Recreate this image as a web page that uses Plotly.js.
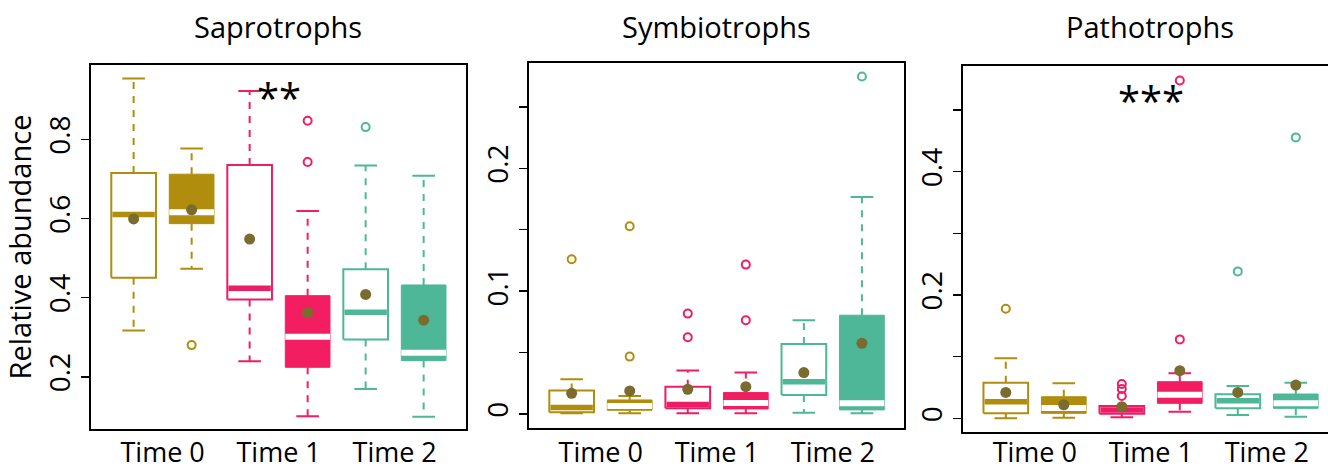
<!DOCTYPE html>
<html>
<head>
<meta charset="utf-8">
<script src="https://cdn.plot.ly/plotly-3.0.1.min.js"></script>
<style>html,body{margin:0;padding:0;background:#fff;}#chart{width:1328px;height:471px;}</style>
</head>
<body>
<div id="chart"></div>
<script>
// ---------- DATA ----------
const panelTitles = ["Saprotrophs", "Symbiotrophs", "Pathotrophs"];
const timeLabels = ["Time 0", "Time 1", "Time 2"];
const significance = ["**", "", "***"];

// Saprotrophs
const saproQ1   = [0.450, 0.587, 0.395, 0.224, 0.294, 0.241];
const saproMed  = [0.610, 0.616, 0.424, 0.301, 0.363, 0.261];
const saproQ3   = [0.715, 0.712, 0.735, 0.405, 0.472, 0.432];
const saproLo   = [0.317, 0.473, 0.239, 0.100, 0.169, 0.099];
const saproHi   = [0.954, 0.777, 0.922, 0.619, 0.734, 0.708];
const saproMean = [0.599, 0.622, 0.548, 0.362, 0.408, 0.343];
const saproOut  = [[], [0.280], [], [0.847, 0.743], [0.831], []];

// Symbiotrophs
const symbioQ1   = [0.0014, 0.0030, 0.0046, 0.0041, 0.0155, 0.0033];
const symbioMed  = [0.0053, 0.0065, 0.0077, 0.0090, 0.0263, 0.0087];
const symbioQ3   = [0.0190, 0.0114, 0.0222, 0.0174, 0.0570, 0.0804];
const symbioLo   = [0.0006, 0.0006, 0.0006, 0.0006, 0.0010, 0.0006];
const symbioHi   = [0.0282, 0.0147, 0.0353, 0.0337, 0.0763, 0.1767];
const symbioMean = [0.0168, 0.0187, 0.0201, 0.0222, 0.0337, 0.0575];
const symbioOut  = [[0.126], [0.1528, 0.0467], [0.0817, 0.0624], [0.1216, 0.0763], [], [0.2747]];

// Pathotrophs
const pathoQ1   = [0.0081, 0.0081, 0.0075, 0.0243, 0.0162, 0.0162];
const pathoMed  = [0.0269, 0.0167, 0.0135, 0.0383, 0.0286, 0.0243];
const pathoQ3   = [0.0577, 0.0350, 0.0200, 0.0594, 0.0389, 0.0394];
const pathoLo   = [0.0000, 0.0010, 0.0016, 0.0107, 0.0054, 0.0026];
const pathoHi   = [0.0973, 0.0567, 0.0200, 0.0730, 0.0524, 0.0577];
const pathoMean = [0.0420, 0.0220, 0.0188, 0.0772, 0.0420, 0.0540];
const pathoOut  = [[0.1778], [], [0.0556, 0.0475, 0.0362], [0.548, 0.128], [0.2383], [0.4556]];

// ---------- STYLE ----------
const boxColors = ["#B08D0D", "#B08D0D", "#EC1E63", "#F31D62", "#4DB797", "#4DB797"];
const boxFilled = [false, true, false, true, false, true];
const meanColor = "#7A6B2E";
const FONT = "Open Sans, Liberation Sans, Arial, sans-serif";
const W = 1328, H = 471;

const panels = [
  {q1: saproQ1, med: saproMed, q3: saproQ3, lo: saproLo, hi: saproHi, mean: saproMean, out: saproOut,
   px: [90.7, 466], py: [65, 429], yr: [0.068, 0.988], dtick: 0.2, minor: null, xr: [0.26, 6.73], mirrorY: true, lblOff: -1},
  {q1: symbioQ1, med: symbioMed, q3: symbioQ3, lo: symbioLo, hi: symbioHi, mean: symbioMean, out: symbioOut,
   px: [528.7, 904.3], py: [63.3, 427.7], yr: [-0.0112, 0.2855], dtick: 0.1, minor: 0.05, xr: [0.26, 6.73], mirrorY: true, lblOff: 0},
  {q1: pathoQ1, med: pathoMed, q3: pathoQ3, lo: pathoLo, hi: pathoHi, mean: pathoMean, out: pathoOut,
   px: [962.7, 1328], py: [66, 431.7], yr: [-0.0217, 0.5714], dtick: 0.2, minor: 0.1, xr: [0.257, 6.555], mirrorY: false, lblOff: -4}
];

const halfW = 0.385, capW = 0.195;
const traces = [];
const layout = {
  width: W, height: H, margin: {l: 0, r: 0, t: 0, b: 0},
  paper_bgcolor: "#fff", plot_bgcolor: "#fff", showlegend: false,
  font: {family: FONT, color: "#000"}, annotations: []
};

panels.forEach((P, k) => {
  const sfx = k === 0 ? "" : String(k + 1);
  const xa = "x" + sfx, ya = "y" + sfx;
  P.q1.forEach((_, i) => {
    const p = i + 1, c = boxColors[i], f = boxFilled[i];
    // whiskers (dashed)
    traces.push({type: "scatter", mode: "lines", xaxis: xa, yaxis: ya, hoverinfo: "skip",
      x: [p, p, null, p, p], y: [P.q3[i], P.hi[i], null, P.q1[i], P.lo[i]],
      line: {color: c, width: 2, dash: "7px,7px"}});
    // caps
    traces.push({type: "scatter", mode: "lines", xaxis: xa, yaxis: ya, hoverinfo: "skip",
      x: [p - capW, p + capW, null, p - capW, p + capW], y: [P.hi[i], P.hi[i], null, P.lo[i], P.lo[i]],
      line: {color: c, width: 2}});
    // box
    traces.push({type: "scatter", mode: "lines", xaxis: xa, yaxis: ya, hoverinfo: "skip",
      x: [p - halfW, p + halfW, p + halfW, p - halfW, p - halfW],
      y: [P.q1[i], P.q1[i], P.q3[i], P.q3[i], P.q1[i]],
      fill: "toself", fillcolor: f ? c : "#ffffff", line: {color: c, width: f ? 1 : 2}});
    // median
    traces.push({type: "scatter", mode: "lines", xaxis: xa, yaxis: ya, hoverinfo: "skip",
      x: [p - halfW + (f ? 0 : 0.02), p + halfW - (f ? 0 : 0.02)], y: [P.med[i], P.med[i]],
      line: {color: f ? "#ffffff" : c, width: f ? 6 : 5.5}});
    // outliers
    if (P.out[i].length) {
      traces.push({type: "scatter", mode: "markers", xaxis: xa, yaxis: ya,
        x: P.out[i].map(() => p), y: P.out[i],
        marker: {symbol: "circle-open", size: 8, color: c, line: {width: 2, color: c}}});
    }
    // mean
    traces.push({type: "scatter", mode: "markers", xaxis: xa, yaxis: ya,
      x: [p], y: [P.mean[i]], marker: {symbol: "circle", size: 11, color: meanColor}});
  });

  const xdom = [P.px[0] / W, P.px[1] / W];
  const ydom = [(H - P.py[1]) / H, (H - P.py[0]) / H];
  layout["xaxis" + sfx] = {
    domain: xdom, range: P.xr, anchor: ya, showgrid: false, zeroline: false,
    showline: true, mirror: true, linecolor: "#000", linewidth: 2,
    ticks: "", tickvals: [1.5, 3.5, 5.5], ticktext: timeLabels,
    tickfont: {size: 27, family: FONT, color: "#000"}, ticklabelstandoff: P.lblOff
  };
  const yax = {
    domain: ydom, range: P.yr, anchor: xa, showgrid: false, zeroline: false,
    showline: true, mirror: P.mirrorY, linecolor: "#000", linewidth: 2,
    ticks: "outside", ticklen: 8, tickwidth: 1.5, tickcolor: "#000",
    tick0: 0, dtick: P.dtick, tickangle: -90,
    tickfont: {size: 28, family: FONT, color: "#000"}
  };
  if (P.minor) yax.minor = {dtick: P.minor, tick0: 0, ticks: "outside", ticklen: 8, tickwidth: 1.5, tickcolor: "#000", showgrid: false};
  if (k === 0) yax.title = {text: "Relative abundance", font: {size: 29, family: FONT, color: "#000"}, standoff: 10};
  layout["yaxis" + sfx] = yax;

  // panel title
  const cx = (P.px[0] + (P.px[0] + (6.73 - P.xr[0]) * (P.px[1] - P.px[0]) / (P.xr[1] - P.xr[0]))) / 2;
  layout.annotations.push({xref: "paper", yref: "paper", x: cx / W, y: (H - 27) / H,
    xanchor: "center", yanchor: "middle", showarrow: false, text: panelTitles[k],
    font: {size: 29, family: FONT, color: "#000"}});
  if (significance[k]) {
    layout.annotations.push({xref: xa, yref: ya, x: 3.5, y: k === 0 ? 0.905 : 0.515,
      xanchor: "center", yanchor: "middle", showarrow: false, text: significance[k],
      font: {size: 40, family: FONT, color: "#000"}});
  }
});

Plotly.newPlot("chart", traces, layout, {staticPlot: true, displayModeBar: false});
</script>
</body>
</html>
